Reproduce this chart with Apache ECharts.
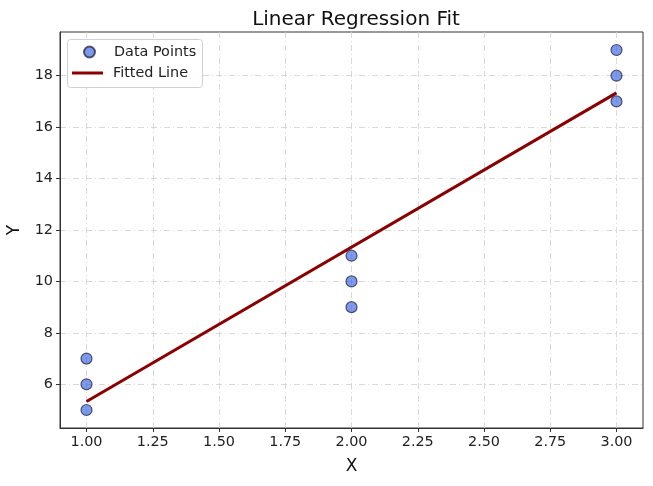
<!DOCTYPE html>
<html>
<head>
<meta charset="utf-8">
<script src="https://cdn.jsdelivr.net/npm/echarts@6/dist/echarts.min.js"></script>
<style>html,body{margin:0;padding:0;background:#fff}#c{width:653px;height:486px}</style>
</head>
<body>
<div id="c"></div>
<script>
const pointX = [1, 1, 1, 2, 2, 2, 3, 3, 3];
const pointY = [5, 6, 7, 9, 10, 11, 17, 18, 19];
const lineX = [1, 3];
const lineY = [5.333, 17.333];
const xTicks = [1.0, 1.25, 1.5, 1.75, 2.0, 2.25, 2.5, 2.75, 3.0];
const yTicks = [6, 8, 10, 12, 14, 16, 18];

const FONT = 'DejaVu Sans';
const chart = echarts.init(document.getElementById('c'));
const split = {show: true, lineStyle: {color: '#cfcfcf', width: 0.8, type: [6, 3, 1, 3]}};
chart.setOption({
  animation: false,
  textStyle: {fontFamily: FONT},
  title: {
    text: 'Linear Regression Fit', left: 351, top: 5, textAlign: 'center',
    textStyle: {fontFamily: FONT, fontSize: 20, fontWeight: 'normal', color: '#111'}
  },
  grid: {left: 60, right: 10, top: 32, bottom: 58, show: true, borderColor: '#333', borderWidth: 1,
         backgroundColor: 'transparent', containLabel: false, outerBoundsMode: 'none'},
  xAxis: {
    type: 'value', min: 0.9, max: 3.1,
    name: 'X', nameLocation: 'middle', nameGap: 30,
    nameTextStyle: {fontFamily: FONT, fontSize: 17, color: '#111'},
    axisLine: {show: true, lineStyle: {color: '#333'}},
    axisTick: {show: true, length: 4, customValues: xTicks, lineStyle: {color: '#333'}},
    axisLabel: {customValues: xTicks, formatter: v => v.toFixed(2), fontSize: 14.4, color: '#222', margin: 7},
    splitLine: split
  },
  yAxis: {
    type: 'value', min: 4.3, max: 19.7,
    name: 'Y', nameLocation: 'middle', nameGap: 37, nameRotate: 90,
    nameTextStyle: {fontFamily: FONT, fontSize: 17, color: '#111'},
    axisLine: {show: true, lineStyle: {color: '#333'}},
    axisTick: {show: true, length: 4, customValues: yTicks, lineStyle: {color: '#333'}},
    axisLabel: {customValues: yTicks, formatter: v => String(Math.round(v)), fontSize: 14.4, color: '#222', margin: 7},
    splitLine: split
  },
  graphic: [{
    type: 'rect', left: 67, top: 39, z: 3,
    shape: {width: 135, height: 48, r: 3},
    style: {fill: 'rgba(255,255,255,0.85)', stroke: '#d0d0d0', lineWidth: 1}
  }],
  legend: [
    {
      data: [{name: 'Data Points', icon: 'circle'}],
      left: 83, top: 45, itemWidth: 11, itemHeight: 11, z: 5, padding: 0,
      textStyle: {fontFamily: FONT, fontSize: 14.4, color: '#222', padding: [0, 0, 0, 14]}
    },
    {
      data: [{name: 'Fitted Line', icon: 'rect'}],
      left: 72, top: 66, itemWidth: 31, itemHeight: 3, z: 5, padding: 0,
      itemStyle: {color: '#8b0000'},
      textStyle: {fontFamily: FONT, fontSize: 14.4, color: '#222', padding: [0, 0, 0, 5]}
    }
  ],
  series: [
    {
      name: 'Fitted Line', type: 'line', z: 2, showSymbol: false, symbol: 'none',
      lineStyle: {color: '#8b0000', width: 3},
      itemStyle: {color: '#8b0000'},
      data: lineX.map((x, i) => [x, lineY[i]])
    },
    {
      name: 'Data Points', type: 'scatter', z: 3,
      symbolSize: 11,
      itemStyle: {color: 'rgba(65,105,225,0.85)', borderColor: 'rgba(10,10,30,0.8)', borderWidth: 1.2},
      data: pointX.map((x, i) => [x, pointY[i]])
    }
  ]
});
</script>
</body>
</html>
